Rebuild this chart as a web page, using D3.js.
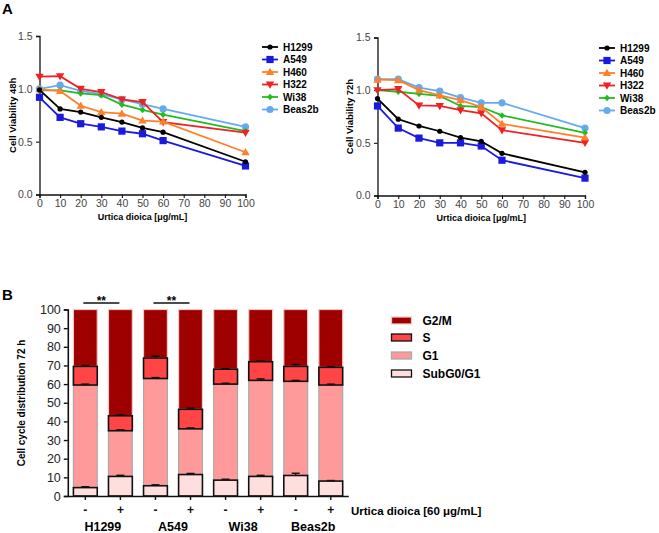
<!DOCTYPE html>
<html><head><meta charset="utf-8">
<script src="https://cdn.jsdelivr.net/npm/d3@7"></script>
<style>
body{margin:0;background:#fff;}
svg{font-family:"Liberation Sans",Arial,sans-serif;}
</style></head>
<body>
<svg id="c" width="659" height="533"></svg>
<script>
// ---------- DATA ----------
const doses = [0, 10, 20, 30, 40, 50, 60, 100];
const lineSeries = ["H1299", "A549", "H460", "H322", "Wi38", "Beas2b"];
const v48_H1299  = [0.99, 0.81, 0.78, 0.73, 0.685, 0.63, 0.59, 0.31];
const v48_A549   = [0.92, 0.73, 0.67, 0.64, 0.60, 0.575, 0.51, 0.27];
const v48_H460   = [0.995, 0.98, 0.84, 0.78, 0.765, 0.70, 0.69, 0.40];
const v48_H322   = [1.115, 1.12, 1.00, 0.97, 0.90, 0.875, 0.685, 0.585];
const v48_Wi38   = [0.985, 0.985, 0.957, 0.94, 0.85, 0.80, 0.755, 0.60];
const v48_Beas2b = [1.0, 1.035, 0.98, 0.95, 0.90, 0.855, 0.81, 0.64];
const v72_H1299  = [0.92, 0.725, 0.66, 0.61, 0.55, 0.515, 0.40, 0.22];
const v72_A549   = [0.85, 0.64, 0.545, 0.50, 0.50, 0.47, 0.335, 0.165];
const v72_H460   = [1.10, 1.095, 1.0, 0.95, 0.905, 0.84, 0.68, 0.55];
const v72_H322   = [1.0, 1.01, 0.855, 0.85, 0.81, 0.78, 0.62, 0.50];
const v72_Wi38   = [1.0, 0.985, 0.965, 0.945, 0.85, 0.84, 0.76, 0.595];
const v72_Beas2b = [1.105, 1.105, 1.025, 0.99, 0.93, 0.88, 0.88, 0.64];
const viabTicks = [0, 0.5, 1.0, 1.5];
const doseTicks = [0, 10, 20, 30, 40, 50, 60, 70, 80, 90, 100];

const cellLines = ["H1299", "A549", "Wi38", "Beas2b"];
const treatments = ["-", "+", "-", "+", "-", "+", "-", "+"];
const phases = ["SubG0/G1", "G1", "S", "G2/M"];
const pct_SubG = [4.5, 10.5, 5.5, 11.5, 8.5, 10.5, 11.0, 8.0];
const pct_G1   = [55.0, 24.5, 57.5, 24.5, 51.5, 51.5, 50.5, 51.5];
const pct_S    = [10.0, 8.0, 11.0, 10.5, 8.0, 10.0, 8.0, 9.5];
const pct_G2M  = [30.5, 57.0, 26.0, 53.5, 32.0, 28.0, 30.5, 31.0];
const err_SubG = [0.5, 0.6, 0.5, 0.6, 0.5, 0.6, 1.2, 0.3];
const err_G1   = [0.5, 0.5, 0.5, 0.5, 0.5, 0.8, 0.5, 0.5];
const err_S    = [0.5, 0.5, 1.0, 0.6, 0.3, 0.4, 1.0, 0.3];
const pctTicks = [0, 10, 20, 30, 40, 50, 60, 70, 80, 90, 100];

// ---------- STYLE ----------
const lineColors = {H1299:"#000000", A549:"#1a1adf", H460:"#ff7f2a", H322:"#ee2222", Wi38:"#22bb22", Beas2b:"#66aaee"};
const lineShapes = {H1299:"circle", A549:"square", H460:"triUp", H322:"triDown", Wi38:"diamond", Beas2b:"bigCircle"};

const svg = d3.select("#c");

function drawMarker(g, shape, x, y, color){
  if(shape==="circle") g.append("circle").attr("cx",x).attr("cy",y).attr("r",2.6).attr("fill",color);
  else if(shape==="bigCircle") g.append("circle").attr("cx",x).attr("cy",y).attr("r",3.6).attr("fill",color);
  else if(shape==="square") g.append("rect").attr("x",x-3.6).attr("y",y-3.6).attr("width",7.2).attr("height",7.2).attr("fill",color);
  else if(shape==="triUp") g.append("path").attr("d",`M${x},${y-4.2}L${x+4.2},${y+3}L${x-4.2},${y+3}Z`).attr("fill",color);
  else if(shape==="triDown") g.append("path").attr("d",`M${x},${y+4.2}L${x+4.2},${y-3}L${x-4.2},${y-3}Z`).attr("fill",color);
  else if(shape==="diamond") g.append("path").attr("d",`M${x},${y-3.3}L${x+3},${y}L${x},${y+3.3}L${x-3},${y}Z`).attr("fill",color);
}

function lineChart(opts){
  const x = d3.scaleLinear().domain([0,100]).range([opts.x0, opts.x1]);
  const y = d3.scaleLinear().domain([0,1.5]).range([opts.y0, opts.y1]);
  const g = svg.append("g");
  const yAx = g.append("g").attr("transform",`translate(${opts.x0},0)`)
    .call(d3.axisLeft(y).tickValues(viabTicks).tickFormat(d3.format(".1f")).tickSize(3.5));
  const xAx = g.append("g").attr("transform",`translate(0,${opts.y0})`)
    .call(d3.axisBottom(x).tickValues(doseTicks).tickSize(3.5));
  [yAx,xAx].forEach(a=>{
    a.select(".domain").attr("stroke","#111").attr("stroke-width",1.3);
    a.selectAll(".tick line").attr("stroke","#111").attr("stroke-width",1.1);
    a.selectAll("text").attr("font-size",10.5).attr("fill","#444").attr("font-family","Liberation Sans, Arial, sans-serif");
  });
  xAx.selectAll("text").attr("y",5).attr("dy","0.71em");
  yAx.selectAll("text").attr("dx","-0.05em");
  g.append("text").attr("x",(opts.x0+opts.x1)/2).attr("y",opts.y0+25.5)
    .attr("text-anchor","middle").attr("font-size",9).attr("font-weight","bold").text("Urtica dioica [μg/mL]");
  g.append("text").attr("transform",`translate(${opts.titleX},${(opts.y0+opts.y1)/2}) rotate(-90)`)
    .attr("text-anchor","middle").attr("font-size",9.5).attr("font-weight","bold").text(opts.title);
  const line = d3.line().x((d,i)=>x(doses[i])).y(d=>y(d));
  const order = ["Beas2b","Wi38","H322","H460","A549","H1299"];
  order.forEach(name=>{
    const vals = opts.data[name];
    g.append("path").attr("d",line(vals)).attr("fill","none").attr("stroke",lineColors[name]).attr("stroke-width",1.8);
    vals.forEach((v,i)=>drawMarker(g, lineShapes[name], x(doses[i]), y(v), lineColors[name]));
  });
  lineSeries.forEach((name,i)=>{
    const ly = opts.legY + i*12.5;
    g.append("line").attr("x1",opts.legX).attr("x2",opts.legX+16).attr("y1",ly).attr("y2",ly)
      .attr("stroke",lineColors[name]).attr("stroke-width",1.8);
    drawMarker(g, lineShapes[name], opts.legX+8, ly, lineColors[name]);
    g.append("text").attr("x",opts.legX+21).attr("y",ly+3.8).attr("font-size",10).attr("font-weight","bold").text(name);
  });
}

lineChart({x0:39.5, x1:245.5, y0:194.5, y1:36, titleX:16, title:"Cell Viability 48h", legX:262, legY:47,
  data:{H1299:v48_H1299, A549:v48_A549, H460:v48_H460, H322:v48_H322, Wi38:v48_Wi38, Beas2b:v48_Beas2b}});
lineChart({x0:377.5, x1:585, y0:195.5, y1:37.5, titleX:353, title:"Cell Viability 72h", legX:599, legY:48,
  data:{H1299:v72_H1299, A549:v72_A549, H460:v72_H460, H322:v72_H322, Wi38:v72_Wi38, Beas2b:v72_Beas2b}});

svg.append("text").attr("x",2).attr("y",14).attr("font-size",15).attr("font-weight","bold").text("A");
svg.append("text").attr("x",2).attr("y",300).attr("font-size",15).attr("font-weight","bold").text("B");

// ---------- Panel B ----------
const bx = d3.scaleBand().domain(d3.range(8)).range([67.8, 348.3]).paddingInner(0.32).paddingOuter(0.16);
const by = d3.scaleLinear().domain([0,100]).range([496, 309.5]);
const gB = svg.append("g");
const phaseFill = {"SubG0/G1":"#ffdede", "G1":"#ff9a9a", "S":"#ff4545", "G2/M":"#9e0000"};
const phaseStroke = {"SubG0/G1":"#111", "G1":"#aaaaaa", "S":"#111", "G2/M":"#f0c8c8"};
const phaseErr = {"SubG0/G1":err_SubG, "G1":err_G1, "S":err_S, "G2/M":null};

const stackData = d3.range(8).map(i=>({i, "SubG0/G1":pct_SubG[i], "G1":pct_G1[i], "S":pct_S[i], "G2/M":pct_G2M[i]}));
const stacked = d3.stack().keys(phases)(stackData);
["G2/M","G1","S","SubG0/G1"].forEach(ph=>{
  const layer = stacked.find(s=>s.key===ph);
  layer.forEach((d,i)=>{
    const top = ph==="G2/M" ? 100 : d[1];
    gB.append("rect").attr("x",bx(i)).attr("width",bx.bandwidth())
      .attr("y",by(top)).attr("height",by(d[0])-by(top))
      .attr("fill",phaseFill[ph]).attr("stroke",phaseStroke[ph])
      .attr("stroke-width", (ph==="S"||ph==="SubG0/G1") ? 1.6 : 1.2);
  });
});
["SubG0/G1","G1","S"].forEach(ph=>{
  const layer = stacked.find(s=>s.key===ph);
  layer.forEach((d,i)=>{
    const cx = bx(i)+bx.bandwidth()/2, e = phaseErr[ph][i];
    gB.append("line").attr("x1",cx).attr("x2",cx).attr("y1",by(d[1])).attr("y2",by(d[1]+e)).attr("stroke","#111").attr("stroke-width",1.2);
    gB.append("line").attr("x1",cx-4).attr("x2",cx+4).attr("y1",by(d[1]+e)).attr("y2",by(d[1]+e)).attr("stroke","#111").attr("stroke-width",1.4);
  });
});
const byAx = gB.append("g").attr("transform","translate(67.8,0)").call(d3.axisLeft(by).tickValues(pctTicks).tickSize(4));
byAx.selectAll("text").attr("font-size",12.5).attr("fill","#222").attr("font-family","Liberation Sans, Arial, sans-serif");
const bxAx = gB.append("g").attr("transform","translate(0,496)").call(d3.axisBottom(bx).tickFormat(i=>treatments[i]).tickSize(4).tickSizeOuter(0));
bxAx.selectAll("text").attr("font-size",12).attr("font-weight","bold").attr("fill","#111").attr("dy","0.95em").attr("font-family","Liberation Sans, Arial, sans-serif");
[byAx,bxAx].forEach(a=>{
  a.select(".domain").attr("stroke","#111").attr("stroke-width",1.6);
  a.selectAll(".tick line").attr("stroke","#111").attr("stroke-width",1.4);
});
cellLines.forEach((name,k)=>{
  const cx = (bx(2*k) + bx(2*k+1) + bx.bandwidth())/2;
  gB.append("text").attr("x",cx).attr("y",531).attr("text-anchor","middle").attr("font-size",12.5).attr("font-weight","bold").text(name);
});
gB.append("text").attr("x",351).attr("y",515).attr("font-size",11.5).attr("font-weight","bold").text("Urtica dioica [60 μg/mL]");
gB.append("text").attr("transform","translate(25,403) rotate(-90)").attr("text-anchor","middle")
  .attr("font-size",10).attr("font-weight","bold").text("Cell cycle distribution 72 h");
[[0,1],[2,3]].forEach(([a,b])=>{
  const x1 = bx(a)+bx.bandwidth()/2 - 2, x2 = bx(b)+bx.bandwidth()/2 - 1;
  gB.append("line").attr("x1",x1).attr("x2",x2).attr("y1",303).attr("y2",303).attr("stroke","#111").attr("stroke-width",1.3);
  gB.append("text").attr("x",(x1+x2)/2).attr("y",305).attr("text-anchor","middle").attr("font-size",12).attr("font-weight","bold").text("**");
});
const legOrder = ["G2/M","S","G1","SubG0/G1"];
const legYs = [320.5, 337.5, 355.5, 373.5];
legOrder.forEach((ph,i)=>{
  gB.append("rect").attr("x",391.5).attr("y",legYs[i]-3.5).attr("width",20).attr("height",7)
    .attr("fill",phaseFill[ph]).attr("stroke",phaseStroke[ph]).attr("stroke-width",1.3);
  gB.append("text").attr("x",422.5).attr("y",legYs[i]+4.5).attr("font-size",12).attr("font-weight","bold").text(ph);
});
</script>
</body></html>
